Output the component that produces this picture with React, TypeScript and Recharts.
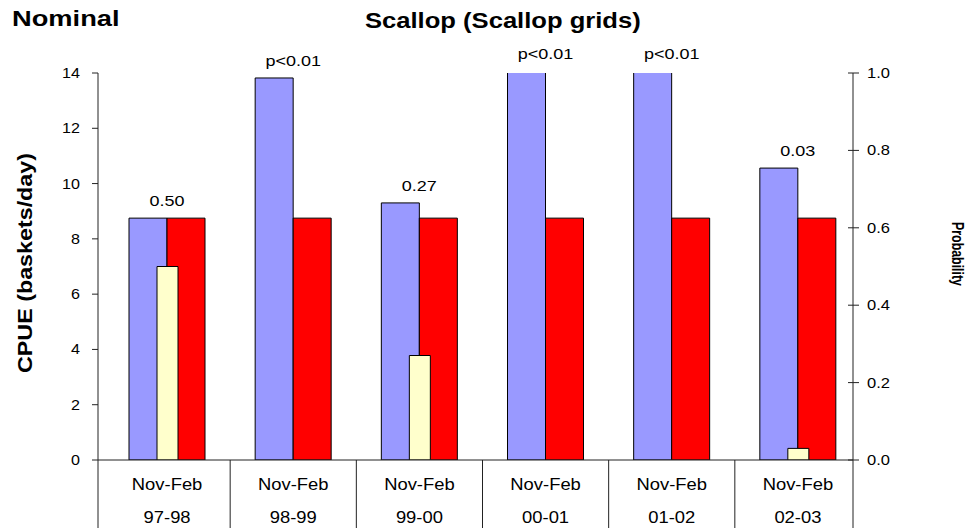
import React from 'react';
import { BarChart, Bar, XAxis, YAxis, LabelList } from 'recharts';

// ---- data ----
const seasons = ['Nov-Feb', 'Nov-Feb', 'Nov-Feb', 'Nov-Feb', 'Nov-Feb', 'Nov-Feb'];
const years = ['97-98', '98-99', '99-00', '00-01', '01-02', '02-03'];
const cpueObserved = [8.75, 13.82, 9.3, 16, 16, 10.56];
const cpueReference = [8.75, 8.75, 8.75, 8.75, 8.75, 8.75];
const probability = [0.5, 0, 0.27, 0, 0, 0.03];
const probLabels = ['0.50', 'p<0.01', '0.27', 'p<0.01', 'p<0.01', '0.03'];
const cpueTicks = [0, 2, 4, 6, 8, 10, 12, 14];
const probTicks = [0, 0.2, 0.4, 0.6, 0.8, 1.0];

const rows = years.map((y, i) => ({
  year: y,
  season: seasons[i],
  a: cpueObserved[i],
  b: cpueReference[i],
  p: probability[i],
}));

// ---- layout ----
const W = 972;
const H = 528;
const TOP = 73;
const LEFT_W = 98;
const RIGHT_W = 119;
const XAXIS_H = 68;
const PAD_L = 6;
const PAD_R = -8;
const PLOT_RIGHT = W - RIGHT_W;
const PLOT_BOTTOM = H - XAXIS_H;
const BAND = (PLOT_RIGHT + -PAD_R - (LEFT_W + PAD_L)) / years.length;
const AXIS = '#222';
const FONT = '"Liberation Sans", Arial, Helvetica, sans-serif';

type STextProps = {
  x: number;
  y: number;
  anchor?: 'start' | 'middle' | 'end';
  size: number;
  bold?: boolean;
  sx?: number;
  children: React.ReactNode;
};

function SText({ x, y, anchor = 'start', size, bold = false, sx = 1.2, children }: STextProps) {
  return (
    <g transform={`translate(${x},${y}) scale(${sx},1)`}>
      <text
        x={0}
        y={0}
        textAnchor={anchor}
        fontSize={size}
        fontWeight={bold ? 'bold' : 'normal'}
        fontFamily={FONT}
        fill="#000"
      >
        {children}
      </text>
    </g>
  );
}

const LeftTick = (props: any) => {
  const { y, payload } = props;
  return (
    <g>
      <line x1={LEFT_W - 6} x2={LEFT_W} y1={y} y2={y} stroke={AXIS} />
      <SText x={80} y={y + 5} anchor="end" size={14} sx={1.15}>
        {String(payload.value)}
      </SText>
    </g>
  );
};

const RightTick = (props: any) => {
  const { y, payload } = props;
  return (
    <g>
      <line x1={PLOT_RIGHT - 5} x2={PLOT_RIGHT + 6} y1={y} y2={y} stroke={AXIS} />
      <SText x={867} y={y + 5} anchor="start" size={14} sx={1.18}>
        {Number(payload.value).toFixed(1)}
      </SText>
    </g>
  );
};

const CatTick = (props: any) => {
  const { x, index } = props;
  const i = Number(index);
  const lines: number[] = [];
  lines.push(i === 0 ? LEFT_W : x - BAND / 2);
  if (i === years.length - 1) lines.push(PLOT_RIGHT);
  return (
    <g>
      {lines.map((lx, k) => (
        <line key={k} x1={lx} x2={lx} y1={PLOT_BOTTOM} y2={H} stroke={AXIS} />
      ))}
      <SText x={x} y={PLOT_BOTTOM + 30} anchor="middle" size={16} sx={1.15}>
        {seasons[i]}
      </SText>
      <SText x={x} y={PLOT_BOTTOM + 63} anchor="middle" size={16} sx={1.15}>
        {years[i]}
      </SText>
    </g>
  );
};

const PLabel = (props: any) => {
  const { x, y, width, index } = props;
  const yy = Number(y);
  const clipped = yy < TOP;
  const base = clipped ? TOP - 14 : yy - 12;
  return (
    <SText x={Number(x) + Number(width)} y={base} anchor="middle" size={15} sx={1.2}>
      {probLabels[Number(index)]}
    </SText>
  );
};

export default function App() {
  return (
    <div style={{ position: 'absolute', left: 0, top: 0, width: W, height: H, background: '#fff' }}>
      <BarChart
        width={W}
        height={H}
        data={rows}
        margin={{ top: TOP, right: 0, bottom: 0, left: 0 }}
        barGap={0}
      >
        <XAxis
          xAxisId="a"
          dataKey="year"
          interval={0}
          height={XAXIS_H}
          padding={{ left: PAD_L, right: PAD_R }}
          tickLine={false}
          axisLine={{ stroke: AXIS }}
          tick={<CatTick />}
        />
        <XAxis xAxisId="b" dataKey="year" hide padding={{ left: PAD_L, right: PAD_R }} />
        <YAxis
          yAxisId="c"
          domain={[0, 14]}
          ticks={cpueTicks}
          allowDataOverflow
          width={LEFT_W}
          tickLine={false}
          axisLine={{ stroke: AXIS }}
          tick={<LeftTick />}
          interval={0}
        />
        <YAxis
          yAxisId="p"
          orientation="right"
          domain={[0, 1]}
          ticks={probTicks}
          allowDataOverflow
          width={RIGHT_W}
          tickLine={false}
          axisLine={{ stroke: AXIS }}
          tick={<RightTick />}
          interval={0}
        />
        <Bar xAxisId="a" yAxisId="c" dataKey="a" fill="#9999FF" stroke="#000" strokeWidth={1} barSize={38} isAnimationActive={false}>
          <LabelList dataKey="a" content={<PLabel />} />
        </Bar>
        <Bar xAxisId="a" yAxisId="c" dataKey="b" fill="#FF0000" stroke="#000" strokeWidth={1} barSize={38} isAnimationActive={false} />
        <Bar xAxisId="b" yAxisId="p" dataKey="p" fill="#FFFFCC" stroke="#000" strokeWidth={1} barSize={21} isAnimationActive={false} />
      </BarChart>
      <svg
        width={W}
        height={H}
        style={{ position: 'absolute', left: 0, top: 0, pointerEvents: 'none' }}
      >
        <SText x={12} y={26} size={22} bold sx={1.24}>Nominal</SText>
        <SText x={365} y={28} size={21.5} bold sx={1.19}>Scallop (Scallop grids)</SText>
        <text
          transform="translate(32,263) rotate(-90)"
          textAnchor="middle"
          fontSize={21}
          fontWeight="bold"
          fontFamily={FONT}
          textLength={220}
          lengthAdjust="spacingAndGlyphs"
        >
          CPUE (baskets/day)
        </text>
        <text
          transform="translate(952,254) rotate(90)"
          textAnchor="middle"
          fontSize={17}
          fontWeight="bold"
          fontFamily={FONT}
          textLength={64}
          lengthAdjust="spacingAndGlyphs"
        >
          Probability
        </text>
      </svg>
    </div>
  );
}
